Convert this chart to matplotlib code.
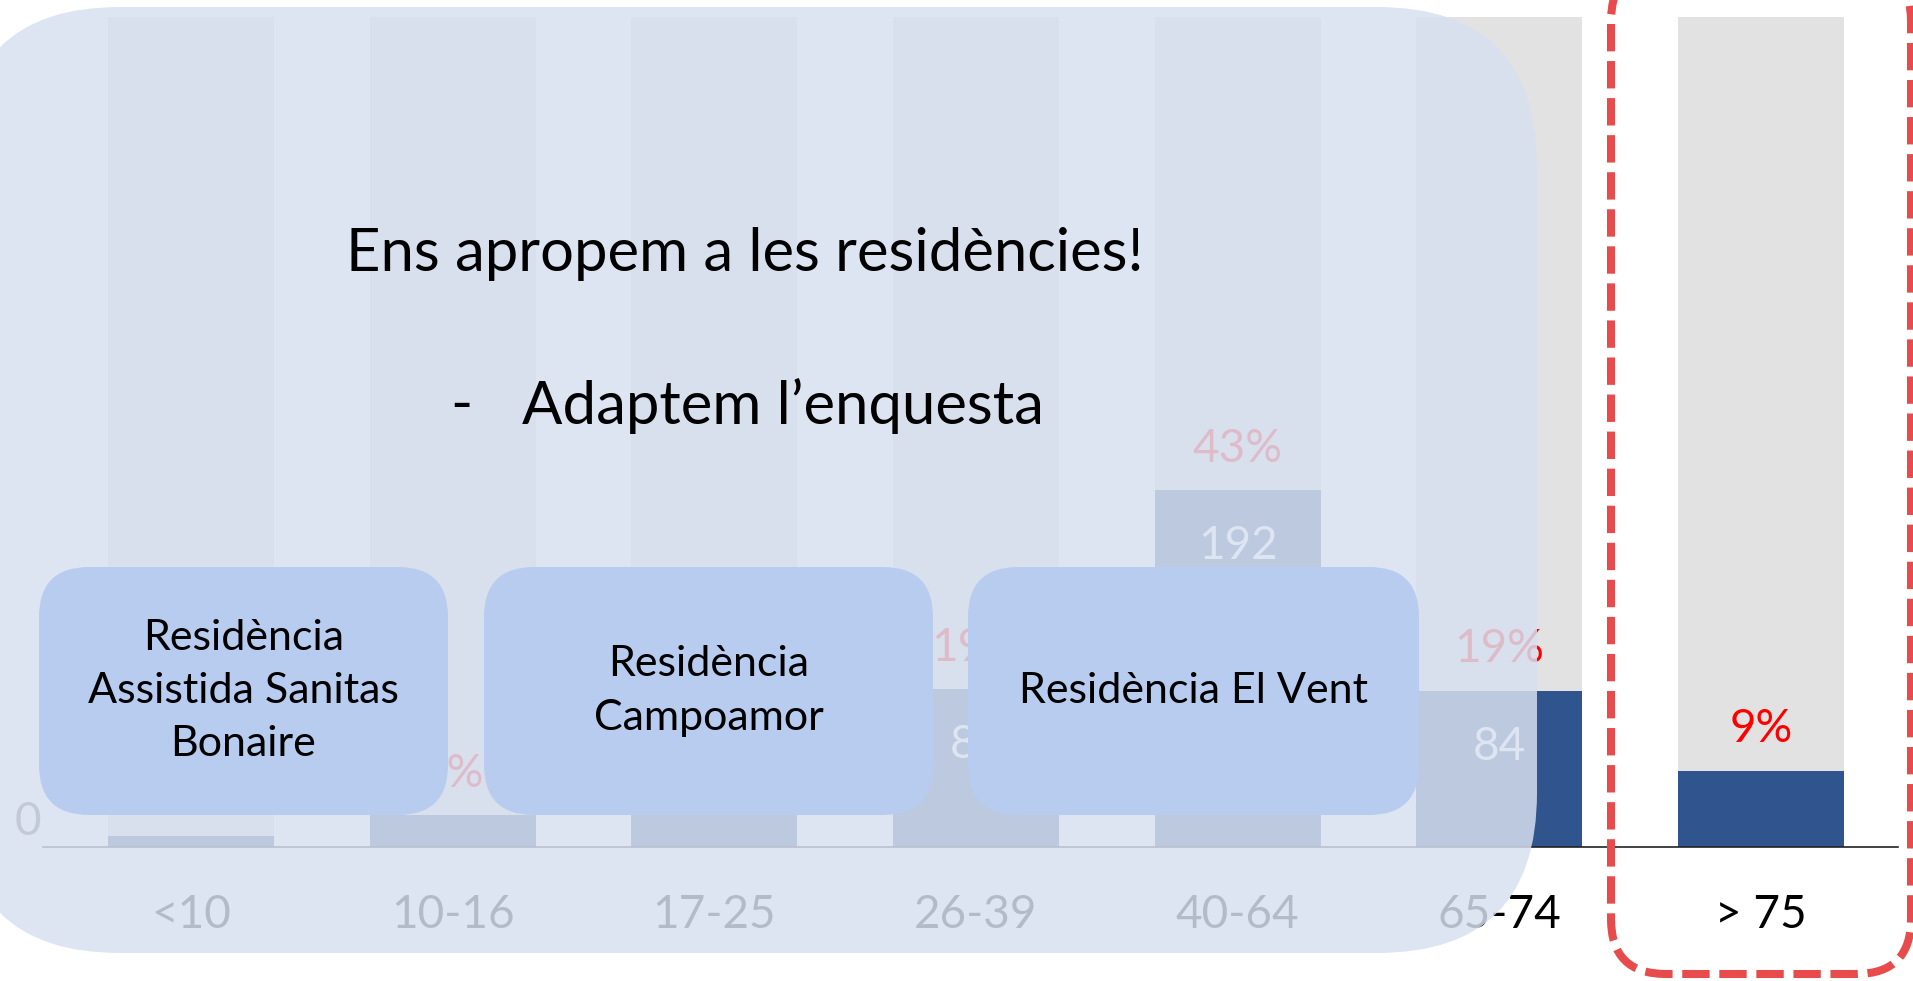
import matplotlib
matplotlib.use('Agg')
import matplotlib.pyplot as plt
from matplotlib.patches import FancyBboxPatch

plt.rcParams['font.family'] = ['Lato', 'DejaVu Sans']

# data
categories = ['<10', '10-16', '17-25', '26-39', '40-64', '65-74', '> 75']
counts = [6, 17, 22, 85, 192, 84, 41]
pct_labels = ['1%', '4%', '5%', '19%', '43%', '19%', '9%']
value_labels = ['', '', '', '85', '192', '84', '']
total = sum(counts)

title = 'Ens apropem a les residències!'
subtitle = 'Adaptem l\u2019enquesta'
box_texts = ['Residència\nAssistida Sanitas\nBonaire', 'Residència\nCampoamor', 'Residència El Vent']

W, H = 1913, 981
fig = plt.figure(figsize=(W / 100, H / 100), dpi=100)

# bar chart
ax = fig.add_axes([43 / W, (H - 847) / H, (1898 - 43) / W, (847 - 17) / H])
x = list(range(len(categories)))
ax.bar(x, [total] * len(x), width=0.635, color='#E2E2E2', zorder=1)
ax.bar(x, counts, width=0.635, color='#30548E', zorder=2)
ax.set_xlim(-0.5655, 6.5235)
ax.set_ylim(0, total)
for i, c in enumerate(counts):
    ax.annotate(pct_labels[i], (i, c), xytext=(0, 30), textcoords='offset points',
                ha='center', va='center', color='#FF0000', fontsize=33)
    if value_labels[i]:
        ax.annotate(value_labels[i], (i, c), xytext=(0, -40), textcoords='offset points',
                    ha='center', va='center', color='white', fontsize=33)
ax.set_xticks(x)
ax.set_xticklabels(categories, fontsize=33, color='black')
ax.tick_params(axis='x', length=0, pad=34)
ax.set_yticks([])
ax.annotate('0', xy=(0, 0), xycoords=('axes fraction', 'data'), xytext=(-11, 18),
            textcoords='offset points', ha='center', va='center', fontsize=33, color='#595959')
for s in ['top', 'right', 'left']:
    ax.spines[s].set_visible(False)
ax.spines['bottom'].set_color('#222222')
ax.spines['bottom'].set_linewidth(1.2)

# slide overlay drawn in pixel coordinates
ov = fig.add_axes([0, 0, 1, 1])
ov.set_xlim(0, W)
ov.set_ylim(H, 0)
ov.axis('off')
ov.patch.set_alpha(0)

ov.add_patch(FancyBboxPatch((-40, 7), 1577, 946, boxstyle='round,pad=0,rounding_size=160',
                            facecolor='#D8E0F0', edgecolor='none', alpha=0.84))
ov.text(745, 254, title, ha='center', va='center', fontsize=43, color='black')
ov.text(461, 406, '-', ha='center', va='center', fontsize=43, color='black')
ov.text(522, 406, subtitle, ha='left', va='center', fontsize=43, color='black')

boxes = [(39, 448), (484, 933), (968, 1419)]
for (x0, x1), txt in zip(boxes, box_texts):
    ov.add_patch(FancyBboxPatch((x0, 567), x1 - x0, 248, boxstyle='round,pad=0,rounding_size=50',
                                facecolor='#B8CCF0', edgecolor='none'))
    ov.text((x0 + x1) / 2, 691, txt, ha='center', va='center', fontsize=31,
            linespacing=1.5, color='black')

ov.add_patch(FancyBboxPatch((1611, -34), 300, 1008, boxstyle='round,pad=0,rounding_size=55',
                            facecolor='none', edgecolor='#E84B4B', linewidth=5.8,
                            linestyle=(0, (3.4, 1.2))))

fig.savefig('out.png', dpi=100)
